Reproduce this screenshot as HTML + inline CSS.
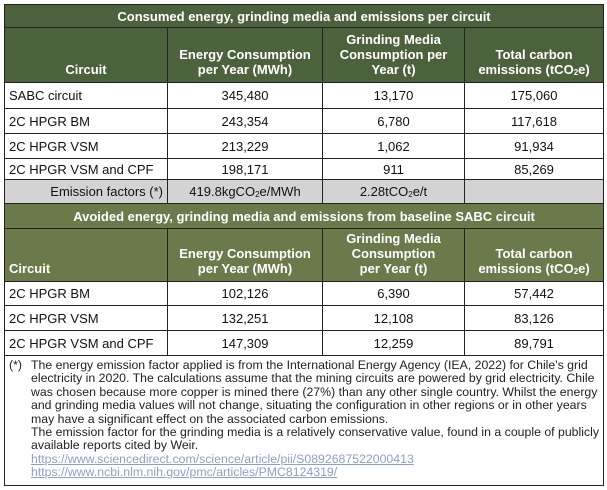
<!DOCTYPE html>
<html><head><meta charset="utf-8"><style>
body{margin:0;width:607px;height:490px;background:#fff;font-family:"Liberation Sans",sans-serif;overflow:hidden}
table{position:absolute;left:4px;top:4px;width:599px;border-collapse:collapse;table-layout:fixed;font-size:13px;color:#111}
td{border:1px solid #222;padding:0 4px;text-align:center;overflow:hidden;white-space:nowrap}
td.l{text-align:left}
.g1{background:#4c623c;color:#fff;font-weight:bold}
.g2{background:#6a7a4a;color:#fff;font-weight:bold}
.gr{background:#d3d3d3}
.ttl{font-size:13px}
.note{text-align:left;white-space:normal;vertical-align:top;padding:3px 4px 2px 4px;font-size:12.3px;line-height:13.4px;color:#222}
.note a{color:#8aa0c8;text-decoration:underline}
sub{font-size:8px;vertical-align:-1px}
</style></head><body>
<table>
<colgroup><col style="width:163px"><col style="width:155px"><col style="width:142px"><col style="width:139px"></colgroup>
<tr style="height:23px"><td colspan="4" class="g1 ttl">Consumed energy, grinding media and emissions per circuit</td></tr>
<tr style="height:55px">
<td class="g1" style="vertical-align:bottom;padding-bottom:5px">Circuit</td>
<td class="g1" style="vertical-align:bottom;padding-bottom:5px">Energy Consumption<br>per Year (MWh)</td>
<td class="g1" style="vertical-align:bottom;padding-bottom:5px">Grinding Media<br>Consumption per<br>Year (t)</td>
<td class="g1" style="vertical-align:bottom;padding-bottom:5px">Total carbon<br>emissions (tCO<sub>2</sub>e)</td></tr>
<tr style="height:26px"><td class="l">SABC circuit</td><td>345,480</td><td>13,170</td><td>175,060</td></tr>
<tr style="height:25px"><td class="l">2C HPGR BM</td><td>243,354</td><td>6,780</td><td>117,618</td></tr>
<tr style="height:25px"><td class="l">2C HPGR VSM</td><td>213,229</td><td>1,062</td><td>91,934</td></tr>
<tr style="height:21px"><td class="l">2C HPGR VSM and CPF</td><td>198,171</td><td>911</td><td>85,269</td></tr>
<tr style="height:24px" class="gr"><td style="text-align:right">Emission factors (*)</td><td>419.8kgCO<sub>2</sub>e/MWh</td><td>2.28tCO<sub>2</sub>e/t</td><td></td></tr>
<tr style="height:25px"><td colspan="4" class="g2 ttl">Avoided energy, grinding media and emissions from baseline SABC circuit</td></tr>
<tr style="height:53px">
<td class="g2 l" style="vertical-align:bottom;padding-bottom:5px">Circuit</td>
<td class="g2" style="vertical-align:bottom;padding-bottom:5px">Energy Consumption<br>per Year (MWh)</td>
<td class="g2" style="vertical-align:bottom;padding-bottom:5px">Grinding Media<br>Consumption<br>per Year (t)</td>
<td class="g2" style="vertical-align:bottom;padding-bottom:5px">Total carbon<br>emissions (tCO<sub>2</sub>e)</td></tr>
<tr style="height:24px"><td class="l">2C HPGR BM</td><td>102,126</td><td>6,390</td><td>57,442</td></tr>
<tr style="height:25px"><td class="l">2C HPGR VSM</td><td>132,251</td><td>12,108</td><td>83,126</td></tr>
<tr style="height:25px"><td class="l">2C HPGR VSM and CPF</td><td>147,309</td><td>12,259</td><td>89,791</td></tr>
<tr style="height:130px"><td colspan="4" class="note"><div style="display:flex"><span style="width:22px;flex:none">(*)</span><div>The energy emission factor applied is from the International Energy Agency (IEA, 2022) for Chile's grid electricity in 2020. The calculations assume that the mining circuits are powered by grid electricity. Chile was chosen because more copper is mined there (27%) than any other single country. Whilst the energy and grinding media values will not change, situating the configuration in other regions or in other years may have a significant effect on the associated carbon emissions.<br>The emission factor for the grinding media is a relatively conservative value, found in a couple of publicly available reports cited by Weir.<br><a>https://www.sciencedirect.com/science/article/pii/S0892687522000413</a><br><a>https://www.ncbi.nlm.nih.gov/pmc/articles/PMC8124319/</a></div></div></td></tr>
</table>
</body></html>
